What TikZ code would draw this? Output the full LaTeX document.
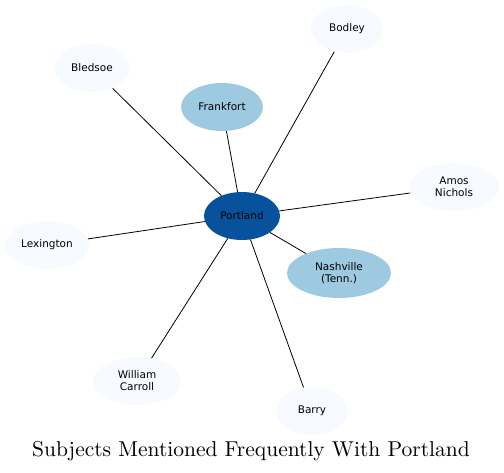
\documentclass[tikz,border=0pt]{standalone}
\usepackage{fontspec}
\usepackage{tikz}
\usetikzlibrary{shapes.geometric}
\newfontfamily\labelfont{DejaVu Sans}
\newfontfamily\titlefont{lmroman10-regular.otf}
\definecolor{hubblue}{HTML}{08519C}
\definecolor{midblue}{HTML}{9ECAE1}
\definecolor{paleblue}{HTML}{F7FBFF}

\begin{document}
\begin{tikzpicture}[x=1pt,y=-1pt,
  subject/.style={ellipse,inner sep=0pt,minimum width=76pt,minimum height=48pt,
    align=center,font=\labelfont\fontsize{10.5}{12}\selectfont},
  rare/.style={subject,fill=paleblue},
  often/.style={subject,fill=midblue},
  link/.style={draw=black,line width=0.8pt}
]
\useasboundingbox (0,0) rectangle (504,472);
\node[subject,fill=hubblue] (port) at (242,216) {Portland};
\node[often,minimum width=82pt] (frank) at (222,107) {Frankfort};
\node[often,minimum width=104pt,minimum height=50pt] (nash) at (339,273) {Nashville\\(Tenn.)};
\node[rare,minimum width=72pt] (bodley) at (347,29) {Bodley};
\node[rare] (bledsoe) at (92,68) {Bledsoe};
\node[rare,minimum width=90pt] (amos) at (454,187) {Amos\\Nichols};
\node[rare,minimum width=84pt] (lex) at (47,245) {Lexington};
\node[rare,minimum width=88pt] (will) at (137,381) {William\\Carroll};
\node[rare,minimum width=72pt] (barry) at (312,411) {Barry};
\node[anchor=base,font=\titlefont\fontsize{21.5}{26}\selectfont] (title) at (251,456)
  {Subjects Mentioned Frequently With Portland};
\draw[link] (port) -- (frank);
\draw[link] (port) -- (nash);
\draw[link] (port) -- (bodley);
\draw[link] (port) -- (bledsoe);
\draw[link] (port) -- (amos);
\draw[link] (port) -- (lex);
\draw[link] (port) -- (will);
\draw[link] (port) -- (barry);
\end{tikzpicture}
\end{document}
